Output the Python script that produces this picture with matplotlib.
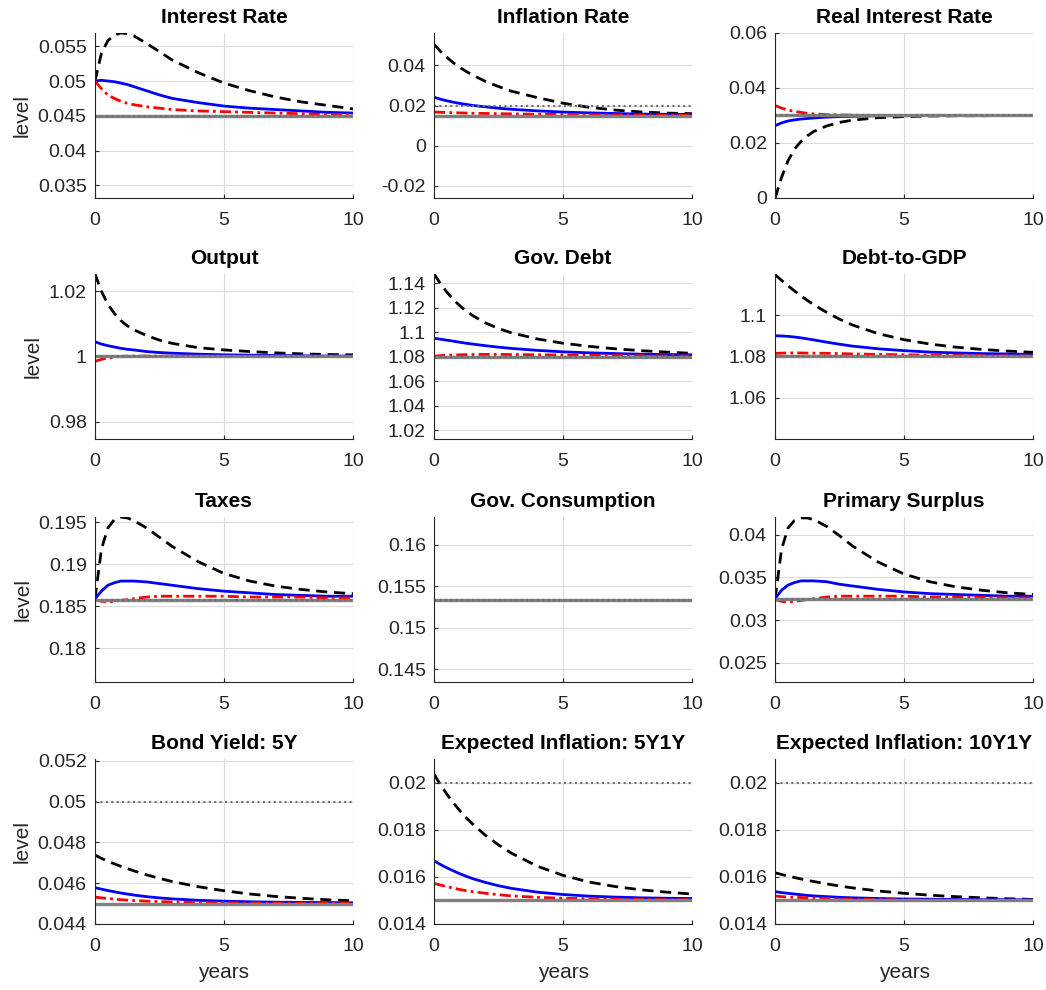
import numpy as np
import matplotlib
matplotlib.use("Agg")
import matplotlib.pyplot as plt
from matplotlib.ticker import FuncFormatter

plt.rcParams['font.family'] = ['Liberation Sans', 'DejaVu Sans']
plt.rcParams['axes.unicode_minus'] = False

# years after the shock
t = [0, 0.25, 0.5, 0.75, 1, 1.25, 1.5, 2, 2.5, 3, 4, 5, 6, 7, 8, 9, 10]

titles = ["Interest Rate", "Inflation Rate", "Real Interest Rate",
          "Output", "Gov. Debt", "Debt-to-GDP",
          "Taxes", "Gov. Consumption", "Primary Surplus",
          "Bond Yield: 5Y", "Expected Inflation: 5Y1Y", "Expected Inflation: 10Y1Y"]

# steady state (solid gray) and target (dotted gray)
ss = [0.045, 0.015, 0.030, 1.0, 1.08, 1.08, 0.1858, 0.15335, 0.0325, 0.045, 0.015, 0.015]
target = [0.045, 0.020, 0.030, 1.0, 1.08, 1.08, 0.1858, 0.15335, 0.0325, 0.050, 0.020, 0.020]

# interest rate
ir_dash = [0.0500, 0.0540, 0.0558, 0.0566, 0.0569, 0.0568, 0.0565, 0.0554, 0.0542, 0.0530,
           0.0512, 0.0497, 0.0486, 0.0477, 0.0470, 0.0465, 0.0460]
ir_blue = [0.0500, 0.0501, 0.0500, 0.0499, 0.0497, 0.0495, 0.0492, 0.0486, 0.0480, 0.0475,
           0.0469, 0.0464, 0.0461, 0.0459, 0.0457, 0.0455, 0.0454]
ir_red = [0.0500, 0.0489, 0.0480, 0.0475, 0.0471, 0.0468, 0.0466, 0.0463, 0.0461, 0.0459,
          0.0457, 0.0456, 0.0455, 0.0454, 0.0453, 0.0452, 0.0452]

# inflation
pi_dash = [0.0505, 0.0470, 0.0440, 0.0413, 0.0390, 0.0370, 0.0352, 0.0320, 0.0295, 0.0272,
           0.0240, 0.0212, 0.0192, 0.0178, 0.0169, 0.0163, 0.0160]
pi_blue = [0.0242, 0.0232, 0.0224, 0.0217, 0.0211, 0.0206, 0.0201, 0.0194, 0.0187, 0.0182,
           0.0174, 0.0168, 0.0164, 0.0161, 0.0158, 0.0157, 0.0156]
pi_red = [0.0168, 0.0167, 0.0166, 0.0165, 0.0164, 0.0163, 0.0162, 0.0161, 0.0160, 0.0159,
          0.0157, 0.0156, 0.0155, 0.0154, 0.0153, 0.0152, 0.0152]

# real rate
rr_dash = [0.0000, 0.0075, 0.0135, 0.0178, 0.0205, 0.0226, 0.0242, 0.0262, 0.0275, 0.0283,
           0.0292, 0.0296, 0.0298, 0.0299, 0.0299, 0.0300, 0.0300]
rr_blue = [0.0263, 0.0273, 0.0280, 0.0284, 0.0287, 0.0289, 0.0291, 0.0294, 0.0296, 0.0297,
           0.0299, 0.0299, 0.0300, 0.0300, 0.0300, 0.0300, 0.0300]
rr_red = [0.0336, 0.0327, 0.0320, 0.0315, 0.0311, 0.0308, 0.0306, 0.0303, 0.0302, 0.0301,
          0.0300, 0.0300, 0.0300, 0.0300, 0.0300, 0.0300, 0.0300]

# output
y_dash = [1.0253, 1.0200, 1.0160, 1.0132, 1.0110, 1.0094, 1.0082, 1.0064, 1.0050, 1.0040,
          1.0027, 1.0020, 1.0015, 1.0011, 1.0008, 1.0006, 1.0005]
y_blue = [1.0045, 1.0038, 1.0033, 1.0029, 1.0025, 1.0022, 1.0020, 1.0015, 1.0012, 1.0010,
          1.0007, 1.0005, 1.0004, 1.0003, 1.0002, 1.0001, 1.0001]
y_red = [0.9985, 0.9991, 0.9995, 0.9998, 1.0000, 1.0001, 1.0001, 1.0001, 1.0001, 1.0001,
         1.0001, 1.0000, 1.0000, 1.0000, 1.0000, 1.0000, 1.0000]

# gov. debt
b_dash = [1.1475, 1.1395, 1.1325, 1.1265, 1.1215, 1.1172, 1.1135, 1.1075, 1.1030, 1.0995,
          1.0945, 1.0910, 1.0885, 1.0865, 1.0850, 1.0838, 1.0828]
b_blue = [1.0950, 1.0943, 1.0935, 1.0927, 1.0918, 1.0910, 1.0903, 1.0890, 1.0878, 1.0868,
          1.0852, 1.0840, 1.0832, 1.0826, 1.0821, 1.0818, 1.0816]
b_red = [1.0805, 1.0809, 1.0812, 1.0814, 1.0816, 1.0817, 1.0818, 1.0819, 1.0819, 1.0818,
         1.0816, 1.0814, 1.0812, 1.0810, 1.0808, 1.0807, 1.0806]

# debt-to-gdp
d_dash = [1.1195, 1.1168, 1.1142, 1.1117, 1.1093, 1.1071, 1.1050, 1.1013, 1.0980, 1.0952,
          1.0910, 1.0881, 1.0860, 1.0845, 1.0834, 1.0826, 1.0820]
d_blue = [1.0900, 1.0899, 1.0897, 1.0894, 1.0890, 1.0885, 1.0880, 1.0869, 1.0859, 1.0850,
          1.0837, 1.0828, 1.0821, 1.0817, 1.0814, 1.0812, 1.0810]
d_red = [1.0815, 1.0816, 1.0817, 1.0817, 1.0817, 1.0816, 1.0816, 1.0815, 1.0814, 1.0812,
         1.0810, 1.0808, 1.0806, 1.0805, 1.0804, 1.0803, 1.0802]

# taxes
tax_dash = [0.1859, 0.1918, 0.1943, 0.1953, 0.1956, 0.1955, 0.1952, 0.1943, 0.1932, 0.1921,
            0.1903, 0.1889, 0.1880, 0.1874, 0.1870, 0.1867, 0.1865]
tax_blue = [0.1859, 0.1868, 0.1875, 0.1878, 0.1880, 0.1880, 0.1880, 0.1879, 0.1877, 0.1875,
            0.1871, 0.1868, 0.1866, 0.1864, 0.1863, 0.1862, 0.1862]
tax_red = [0.1858, 0.1856, 0.1855, 0.1856, 0.1857, 0.1858, 0.1859, 0.1861, 0.1862, 0.1862,
           0.1862, 0.1862, 0.1861, 0.1861, 0.1861, 0.1860, 0.1860]

# gov. consumption (flat)
g_dash = [0.15335] * 17
g_blue = [0.15335] * 17
g_red = [0.15335] * 17

# primary surplus
ps_dash = [0.0325, 0.0383, 0.0408, 0.0417, 0.0420, 0.0420, 0.0418, 0.0410, 0.0399, 0.0387,
           0.0368, 0.0354, 0.0345, 0.0339, 0.0335, 0.0332, 0.0330]
ps_blue = [0.0325, 0.0335, 0.0341, 0.0344, 0.0346, 0.0346, 0.0346, 0.0345, 0.0342, 0.0340,
           0.0336, 0.0333, 0.0331, 0.0330, 0.0329, 0.0328, 0.0328]
ps_red = [0.0324, 0.0322, 0.0321, 0.0322, 0.0323, 0.0324, 0.0325, 0.0327, 0.0328, 0.0328,
          0.0328, 0.0328, 0.0327, 0.0327, 0.0327, 0.0326, 0.0326]

# bond yield 5Y
by_dash = [0.04738, 0.04722, 0.04708, 0.04695, 0.04683, 0.04672, 0.04661, 0.04641, 0.04624,
           0.04608, 0.04583, 0.04563, 0.04547, 0.04535, 0.04526, 0.04519, 0.04514]
by_blue = [0.04578, 0.04571, 0.04564, 0.04558, 0.04552, 0.04547, 0.04542, 0.04534, 0.04528,
           0.04523, 0.04516, 0.04512, 0.04509, 0.04507, 0.04506, 0.04505, 0.04504]
by_red = [0.04532, 0.04528, 0.04525, 0.04522, 0.04519, 0.04517, 0.04515, 0.04512, 0.04510,
          0.04508, 0.04506, 0.04504, 0.04503, 0.04503, 0.04502, 0.04502, 0.04502]

# expected inflation 5Y1Y
e5_dash = [0.02035, 0.01990, 0.01950, 0.01913, 0.01880, 0.01850, 0.01823, 0.01775, 0.01735,
           0.01700, 0.01645, 0.01606, 0.01578, 0.01559, 0.01545, 0.01535, 0.01527]
e5_blue = [0.01668, 0.01652, 0.01638, 0.01625, 0.01613, 0.01602, 0.01592, 0.01576, 0.01562,
           0.01551, 0.01535, 0.01525, 0.01518, 0.01514, 0.01511, 0.01509, 0.01508]
e5_red = [0.01572, 0.01565, 0.01558, 0.01552, 0.01546, 0.01541, 0.01537, 0.01530, 0.01524,
          0.01519, 0.01513, 0.01509, 0.01507, 0.01505, 0.01504, 0.01503, 0.01503]

# expected inflation 10Y1Y
e10_dash = [0.01617, 0.01610, 0.01603, 0.01597, 0.01591, 0.01585, 0.01580, 0.01570, 0.01561,
            0.01553, 0.01540, 0.01530, 0.01522, 0.01516, 0.01511, 0.01507, 0.01504]
e10_blue = [0.01537, 0.01533, 0.01530, 0.01527, 0.01524, 0.01521, 0.01519, 0.01516, 0.01513,
            0.01511, 0.01508, 0.01506, 0.01505, 0.01504, 0.01503, 0.01503, 0.01502]
e10_red = [0.01518, 0.01516, 0.01514, 0.01513, 0.01512, 0.01511, 0.01510, 0.01508, 0.01506,
           0.01505, 0.01503, 0.01502, 0.01501, 0.01501, 0.01500, 0.01500, 0.01500]

dash_series = [ir_dash, pi_dash, rr_dash, y_dash, b_dash, d_dash,
               tax_dash, g_dash, ps_dash, by_dash, e5_dash, e10_dash]
blue_series = [ir_blue, pi_blue, rr_blue, y_blue, b_blue, d_blue,
               tax_blue, g_blue, ps_blue, by_blue, e5_blue, e10_blue]
red_series = [ir_red, pi_red, rr_red, y_red, b_red, d_red,
              tax_red, g_red, ps_red, by_red, e5_red, e10_red]

ylims = [(0.0332, 0.0569), (-0.026, 0.0562), (0.0, 0.06),
         (0.9747, 1.0253), (1.013, 1.1475), (1.0401, 1.1199),
         (0.1760, 0.1956), (0.14345, 0.1633), (0.0227, 0.0421),
         (0.044, 0.0521), (0.014, 0.021), (0.014, 0.021)]
yticks = [[0.035, 0.04, 0.045, 0.05, 0.055], [-0.02, 0, 0.02, 0.04], [0, 0.02, 0.04, 0.06],
          [0.98, 1, 1.02], [1.02, 1.04, 1.06, 1.08, 1.1, 1.12, 1.14], [1.06, 1.08, 1.1],
          [0.18, 0.185, 0.19, 0.195], [0.145, 0.15, 0.155, 0.16], [0.025, 0.03, 0.035, 0.04],
          [0.044, 0.046, 0.048, 0.05, 0.052], [0.014, 0.016, 0.018, 0.02],
          [0.014, 0.016, 0.018, 0.02]]

fig = plt.figure(figsize=(10.46, 9.9), dpi=100)

lefts = [0.0908, 0.415, 0.741]
bottoms = [0.800, 0.5566, 0.311, 0.0667]
w, h = 0.2467, 0.1667
axc = '#262626'

for i in range(12):
    r, c = divmod(i, 3)
    ax = fig.add_axes([lefts[c], bottoms[r], w, h])
    ax.plot(t, dash_series[i], color='k', lw=2, ls=(0, (4, 2.4)))
    ax.plot(t, blue_series[i], color='#0000ff', lw=2)
    ax.plot(t, red_series[i], color='#ff0000', lw=2, ls=(0, (4, 1.5, 1, 1.5)))
    ax.plot([0, 10], [ss[i], ss[i]], color='#808080', lw=2.4)
    ax.plot([0, 10], [target[i], target[i]], color='#707070', lw=1.5, ls=(0, (1, 1.6)))
    ax.set_xlim(0, 10)
    ax.set_ylim(*ylims[i])
    ax.set_xticks([0, 5, 10])
    ax.set_yticks(yticks[i])
    ax.yaxis.set_major_formatter(FuncFormatter(lambda v, p: '%g' % round(v, 6)))
    ax.grid(True, color='#dcdcdc', lw=0.8)
    ax.set_axisbelow(True)
    for s in ['top', 'right']:
        ax.spines[s].set_visible(False)
    for s in ['left', 'bottom']:
        ax.spines[s].set_color(axc)
        ax.spines[s].set_linewidth(0.8)
    ax.tick_params(direction='in', length=3, labelsize=14, colors=axc, pad=6)
    ax.tick_params(axis='x', pad=10)
    ax.set_title(titles[i], fontsize=15, fontweight='bold', pad=7)
    if c == 0:
        ax.set_ylabel('level', fontsize=15, color=axc, labelpad=4)
    if r == 3:
        ax.set_xlabel('years', fontsize=15, color=axc, labelpad=6)

fig.savefig('out.png', dpi=100)
